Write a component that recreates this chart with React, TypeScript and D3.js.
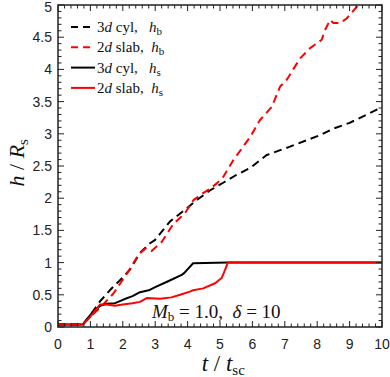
import React from "react";
import * as d3 from "d3";

// time axis t / t_sc and heights h / R_s
const tCylS = [0, 0.77, 1.0, 1.3, 1.5, 1.76, 2.04, 2.3, 2.53, 2.8, 3.0, 3.4, 3.82, 3.9, 4.17, 5.25, 10];
const hCylS = [0.04, 0.04, 0.19, 0.33, 0.36, 0.37, 0.43, 0.48, 0.54, 0.57, 0.62, 0.71, 0.81, 0.84, 0.99, 1.0, 1.0];

const tSlabS = [0, 0.77, 1.0, 1.3, 1.5, 1.76, 2.0, 2.3, 2.53, 2.74, 3.15, 3.5, 3.77, 4.07, 4.17, 4.48, 4.85, 5.05, 5.15, 5.24, 10];
const hSlabS = [0.04, 0.04, 0.16, 0.35, 0.35, 0.33, 0.35, 0.37, 0.39, 0.45, 0.44, 0.46, 0.5, 0.55, 0.57, 0.6, 0.68, 0.76, 0.88, 1.0, 1.0];

const tCylB = [0, 0.77, 1.0, 1.3, 1.6, 1.9, 2.22, 2.53, 2.84, 2.99, 3.46, 3.92, 4.28, 4.69, 5.1, 5.5, 5.93, 6.44, 7.16, 7.67, 8.09, 8.5, 9.0, 9.42, 9.94, 10];
const hCylB = [0.04, 0.04, 0.19, 0.4, 0.57, 0.72, 0.89, 1.15, 1.3, 1.35, 1.64, 1.82, 1.97, 2.12, 2.24, 2.36, 2.47, 2.67, 2.8, 2.9, 2.98, 3.08, 3.17, 3.27, 3.4, 3.42];

const tSlabB = [0, 0.77, 1.0, 1.3, 1.71, 2.17, 2.48, 2.7, 2.89, 3.2, 3.56, 3.92, 4.18, 4.48, 4.7, 4.9, 5.1, 5.41, 5.93, 6.23, 6.6, 6.85, 7.06, 7.26, 7.47, 7.78, 8.14, 8.24, 8.4, 8.5, 8.7, 8.91, 9.22, 9.4];
const hSlabB = [0.04, 0.04, 0.16, 0.3, 0.52, 0.86, 1.12, 1.22, 1.18, 1.32, 1.6, 1.77, 1.97, 2.08, 2.15, 2.23, 2.33, 2.59, 2.95, 3.21, 3.42, 3.73, 3.84, 4.0, 4.17, 4.33, 4.46, 4.61, 4.77, 4.72, 4.72, 4.79, 4.97, 5.1];

const xTicks = [0, 1, 2, 3, 4, 5, 6, 7, 8, 9, 10];
const yTicks = [0, 0.5, 1, 1.5, 2, 2.5, 3, 3.5, 4, 4.5, 5];

const legendItems = [
  {dim: "3", geo: " cyl,   ", sub: "b", color: "#000", dashed: true},
  {dim: "2", geo: " slab,  ", sub: "b", color: "#f00", dashed: true},
  {dim: "3", geo: " cyl,   ", sub: "s", color: "#000", dashed: false},
  {dim: "2", geo: " slab,  ", sub: "s", color: "#f00", dashed: false},
];

const W = 390, H = 377;
const m = {left: 58, right: 8, top: 5, bottom: 50};

export default function App() {
  const x = d3.scaleLinear().domain([0, 10]).range([m.left, W - m.right]);
  const y = d3.scaleLinear().domain([0, 5]).range([H - m.bottom, m.top]);
  const line = d3.line<[number, number]>().x(d => x(d[0])).y(d => y(d[1]));
  const path = (ts: number[], hs: number[]) => line(ts.map((t, i) => [t, hs[i]]) as [number, number][]) || "";

  const x0 = x(0), x1 = x(10), y0 = y(0), y1 = y(5);
  const xMinor = d3.range(0, 10.001, 0.2);
  const yMinor = d3.range(0, 5.001, 0.1);
  const serif = "'Liberation Serif', 'DejaVu Serif', serif";
  const sans = "'Liberation Sans', Arial, sans-serif";

  return (
    <svg width={W} height={H} style={{position: "absolute", left: 0, top: 0, background: "#fff"}}>
      <defs>
        <clipPath id="plotArea">
          <rect x={x0} y={y1} width={x1 - x0} height={y0 - y1} />
        </clipPath>
      </defs>

      <g clipPath="url(#plotArea)" fill="none" strokeWidth={2} strokeLinejoin="round">
        <path d={path(tCylB, hCylB)} stroke="#000" strokeDasharray="8,5" />
        <path d={path(tSlabB, hSlabB)} stroke="#f00" strokeDasharray="8,5" />
        <path d={path(tCylS, hCylS)} stroke="#000" />
        <path d={path(tSlabS, hSlabS)} stroke="#f00" />
      </g>

      <g stroke="#222" strokeWidth={1}>
        {xMinor.map((t, i) => (
          <g key={"xm" + i}>
            <line x1={x(t)} x2={x(t)} y1={y0} y2={y0 - (Math.abs(t - Math.round(t)) < 1e-6 ? 6 : 3.5)} />
            <line x1={x(t)} x2={x(t)} y1={y1} y2={y1 + (Math.abs(t - Math.round(t)) < 1e-6 ? 6 : 3.5)} />
          </g>
        ))}
        {yMinor.map((h, i) => {
          const major = Math.abs(h * 2 - Math.round(h * 2)) < 1e-6;
          return (
            <g key={"ym" + i}>
              <line x1={x0} x2={x0 + (major ? 6 : 3.5)} y1={y(h)} y2={y(h)} />
              <line x1={x1} x2={x1 - (major ? 6 : 3.5)} y1={y(h)} y2={y(h)} />
            </g>
          );
        })}
      </g>
      <rect x={x0} y={y1} width={x1 - x0} height={y0 - y1} fill="none" stroke="#222" strokeWidth={1.5} />

      <g fontFamily={sans} fontSize={14} fill="#222">
        {xTicks.map(t => (
          <text key={"xt" + t} x={x(t)} y={y0 + 22} textAnchor="middle">{t}</text>
        ))}
        {yTicks.map(h => (
          <text key={"yt" + h} x={x0 - 6} y={Math.max(y(h) + 5, 12)} textAnchor="end">{h}</text>
        ))}
      </g>

      <text x={x(5.1)} y={H - 6} textAnchor="middle" fontFamily={serif} fontSize={23} fill="#111">
        <tspan fontStyle="italic">t</tspan>
        <tspan> / </tspan>
        <tspan fontStyle="italic">t</tspan>
        <tspan fontSize={15} dy={4}>sc</tspan>
      </text>

      <text transform={`translate(24,${y(2.55)}) rotate(-90)`} textAnchor="middle" fontFamily={serif} fontSize={22} fill="#111">
        <tspan fontStyle="italic">h</tspan>
        <tspan> / </tspan>
        <tspan fontStyle="italic">R</tspan>
        <tspan fontSize={15} dy={4}>s</tspan>
      </text>

      <g fontFamily={serif} fontSize={15} fill="#111">
        {legendItems.map((d, i) => {
          const ly = 27 + i * 20.3;
          return (
            <g key={"lg" + i}>
              <line x1={71} x2={95} y1={ly} y2={ly} stroke={d.color} strokeWidth={2} strokeDasharray={d.dashed ? "7,5" : undefined} />
              <text x={97} y={ly + 5} style={{whiteSpace: "pre"}}>
                <tspan>{d.dim}</tspan>
                <tspan fontStyle="italic">d</tspan>
                <tspan>{d.geo}</tspan>
                <tspan fontStyle="italic">h</tspan>
                <tspan fontSize={11} dy={3}>{d.sub}</tspan>
              </text>
            </g>
          );
        })}
      </g>

      <text x={152} y={318} fontFamily={serif} fontSize={19} fill="#111" style={{whiteSpace: "pre"}}>
        <tspan fontStyle="italic">M</tspan>
        <tspan fontSize={13} dy={3}>b</tspan>
        <tspan dy={-3}>{" = 1.0,  "}</tspan>
        <tspan fontStyle="italic">δ</tspan>
        <tspan>{" = 10"}</tspan>
      </text>
    </svg>
  );
}
